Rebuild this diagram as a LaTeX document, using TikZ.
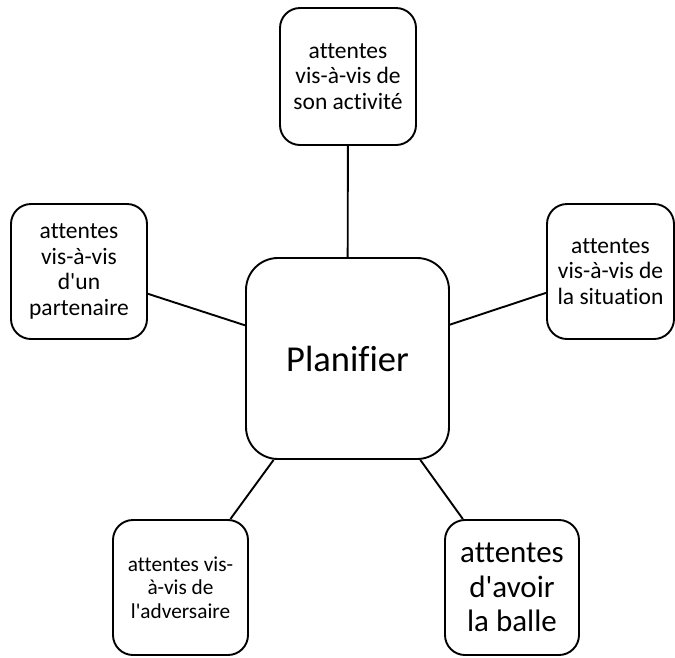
\documentclass[tikz,border=0pt]{standalone}
\usepackage{fontspec}
\newfontfamily\calfont{Carlito}[Ligatures={NoCommon}]
\begin{document}
\begin{tikzpicture}[x=1pt,y=-1pt,
  box/.style={draw, line width=1.9pt, rounded corners=20pt, inner sep=0pt, align=center, fill=white},
  small/.style={font=\calfont\fontsize{23.5}{25.5}\selectfont},
  link/.style={line width=1.9pt}]
\useasboundingbox[fill=white] (0,0) rectangle (675,657);
\node[box, minimum width=203pt, minimum height=201pt, rounded corners=32pt, font=\calfont\fontsize{36.5}{40}\selectfont] (c) at (347.5,358.5) {Planifier};
\node[box, small, minimum width=136pt, minimum height=137pt] (t) at (348,76.5) {attentes\\vis-à-vis de\\son activité};
\node[box, small, minimum width=127pt, minimum height=135pt] (r) at (610.5,271.5) {attentes\\vis-à-vis de\\la situation};
\node[box, small, minimum width=136pt, minimum height=135pt] (l) at (79,271.5) {attentes\\vis-à-vis\\d'un\\partenaire};
\node[box, font=\calfont\fontsize{21.3}{23.5}\selectfont, minimum width=135pt, minimum height=135pt] (bl) at (180.5,587.5) {attentes vis-\\à-vis de\\l'adversaire};
\node[box, font=\calfont\fontsize{31}{34.5}\selectfont, minimum width=134pt, minimum height=135pt] (br) at (512,587.5) {attentes\\d'avoir\\la balle};
\draw[link] (t) -- (c);
\draw[link] (r) -- (c);
\draw[link] (l) -- (c);
\draw[link] (bl) -- (c);
\draw[link] (br) -- (c);
\end{tikzpicture}
\end{document}
